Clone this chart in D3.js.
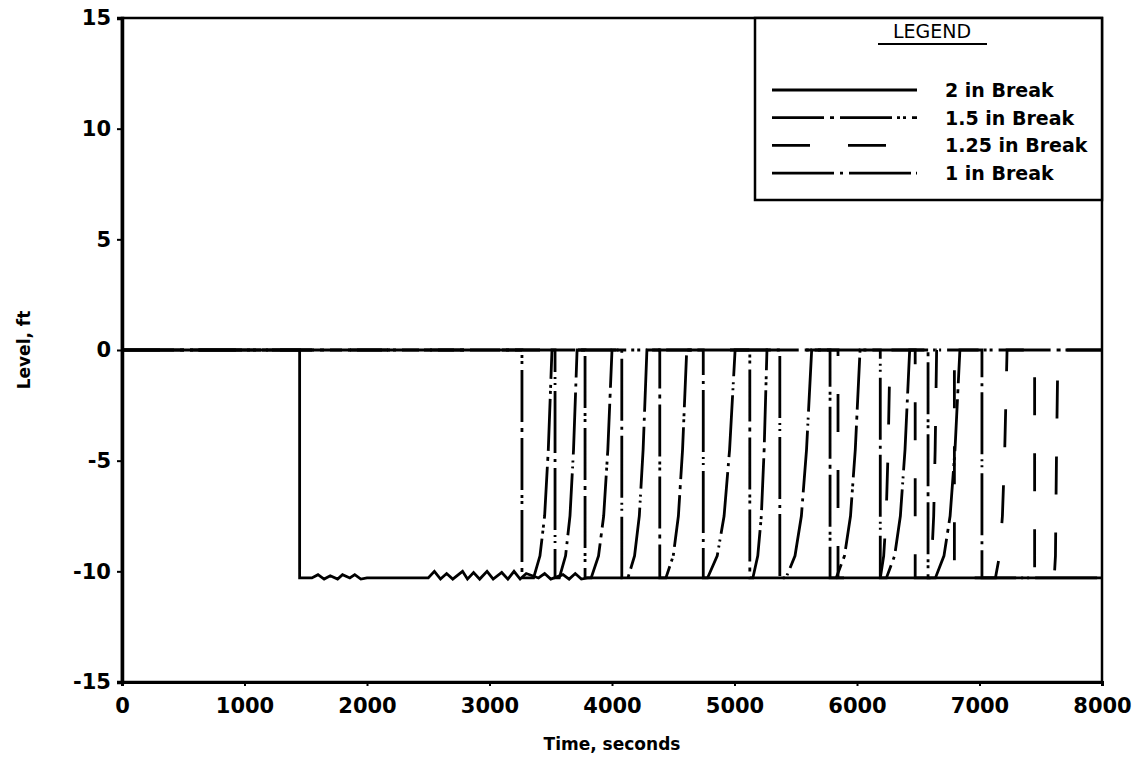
<!DOCTYPE html>
<html>
<head>
<meta charset="utf-8">
<script src="https://cdn.jsdelivr.net/npm/d3@7"></script>
<style>
  body { margin: 0; background: white; }
  svg { display: block; }
  text { font-family: "DejaVu Sans", sans-serif; font-weight: bold; fill: black; }
</style>
</head>
<body>
<script>
// tick values
var xTicks = [0, 1000, 2000, 3000, 4000, 5000, 6000, 7000, 8000]
var yTicks = [-15, -10, -5, 0, 5, 10, 15]

// legend names, same order as the series below
var seriesNames = ["2 in Break", "1.5 in Break", "1.25 in Break", "1 in Break"]

// level (ft) vs time (s)
var break2in = [
    [0, 0], [1450, 0], [1450, -10.3], [1550, -10.3], [1600, -10.15], [1650, -10.35], [1700, -10.2],
    [1760, -10.35], [1800, -10.15], [1860, -10.3], [1900, -10.15], [1950, -10.35], [2000, -10.3],
    [2500, -10.3], [2550, -10.0], [2600, -10.35], [2650, -10.1], [2700, -10.35], [2780, -10.0],
    [2820, -10.35], [2870, -10.05], [2920, -10.35], [2980, -10.0], [3030, -10.35], [3100, -10.05],
    [3150, -10.35], [3200, -10.0], [3250, -10.35], [3300, -10.1], [3400, -10.3], [3450, -10.1],
    [3500, -10.35], [3600, -10.15], [3650, -10.35], [3700, -10.1], [3750, -10.35], [3800, -10.3],
    [8000, -10.3]
]

var break15in = [
    [0, 0], [3265, 0], [3265, -10.3],
    [3360, -10.3], [3412, -9.3], [3450, -7.5], [3480, -4.5], [3510, 0],
    [3780, 0], [3780, -10.3],
    [3830, -10.3], [3890, -9.3], [3932, -7.5], [3966, -4.5], [4000, 0],
    [4390, 0], [4390, -10.3],
    [4440, -10.3], [4500, -9.3], [4542, -7.5], [4576, -4.5], [4610, 0],
    [5125, 0], [5125, -10.3],
    [5150, -10.3], [5190, -9.3], [5219, -7.5], [5242, -4.5], [5265, 0],
    [5780, 0], [5780, -10.3],
    [5830, -10.3], [5898, -9.3], [5947, -7.5], [5986, -4.5], [6025, 0],
    [6580, 0], [6580, -10.3],
    [6640, -10.3], [6710, -9.3], [6760, -7.5], [6800, -4.5], [6840, 0],
    [8000, 0]
]

var break125in = [
    [0, 0], [5845, 0], [5845, -10.3],
    [6190, -10.3], [6218, -9.3], [6238, -7.5], [6254, -4.5], [6270, 0],
    [6475, 0], [6475, -10.3],
    [6590, -10.3], [6611, -9.3], [6626, -7.5], [6638, -4.5], [6650, 0],
    [6795, 0], [6795, -10.3],
    [7130, -10.3], [7163, -9.3], [7187, -7.5], [7206, -4.5], [7225, 0],
    [7450, 0], [7450, -10.3],
    [7610, -10.3], [7620, -9.3], [7628, -5], [7640, 0],
    [8000, 0]
]

var break1in = [
    [0, 0], [3535, 0], [3535, -10.3],
    [3570, -10.3], [3621, -9.3], [3657, -7.5], [3686, -4.5], [3715, 0],
    [4080, 0], [4080, -10.3],
    [4130, -10.3], [4184, -9.3], [4223, -7.5], [4254, -4.5], [4285, 0],
    [4745, 0], [4745, -10.3],
    [4780, -10.3], [4859, -9.3], [4915, -7.5], [4960, -4.5], [5005, 0],
    [5370, 0], [5370, -10.3],
    [5420, -10.3], [5494, -9.3], [5546, -7.5], [5588, -4.5], [5630, 0],
    [6190, 0], [6190, -10.3],
    [6240, -10.3], [6307, -9.3], [6354, -7.5], [6392, -4.5], [6430, 0],
    [7020, 0], [7020, -10.3],
    [8000, -10.3]
]

var seriesData = [break2in, break15in, break125in, break1in]
var dashes = ["none", "52,6,4,6,52,5,3,3,3,6", "38,38", "62,6,3,6,62,5,2,4,2,6"]

var width = 1138
var height = 771
var plotLeft = 122, plotRight = 1102, plotTop = 18, plotBottom = 682

var svg = d3.select("body")
    .append("svg")
    .attr("width", width)
    .attr("height", height)

var x = d3.scaleLinear().domain([0, 8000]).range([plotLeft, plotRight])
var y = d3.scaleLinear().domain([-15, 15]).range([plotBottom, plotTop])

var line = d3.line()
    .x(function (d) { return x(d[0]) })
    .y(function (d) { return y(d[1]) })

// data lines
svg.selectAll(".series")
    .data(seriesData)
    .enter()
    .append("path")
    .attr("class", "series")
    .attr("d", line)
    .attr("fill", "none")
    .attr("stroke", "black")
    .attr("stroke-width", 2.8)
    .attr("stroke-dasharray", function (d, i) { return dashes[i] })

// frame
svg.append("rect")
    .attr("x", plotLeft)
    .attr("y", plotTop)
    .attr("width", plotRight - plotLeft)
    .attr("height", plotBottom - plotTop)
    .attr("fill", "none")
    .attr("stroke", "black")
    .attr("stroke-width", 2.5)

// axes, plain hyphen for negatives like the original
var yAxis = svg.append("g")
    .attr("transform", "translate(" + plotLeft + ",0)")
    .call(d3.axisLeft(y).tickValues(yTicks).tickFormat(function (d) { return String(d) }).tickSize(5).tickPadding(6))
var xAxis = svg.append("g")
    .attr("transform", "translate(0," + plotBottom + ")")
    .call(d3.axisBottom(x).tickValues(xTicks).tickFormat(function (d) { return String(d) }).tickSize(4).tickPadding(12))

yAxis.select(".domain").attr("stroke-width", 3.5)
xAxis.select(".domain").attr("stroke-width", 3)
svg.selectAll(".tick line").attr("stroke-width", 2)
svg.selectAll(".tick text")
    .style("font-family", "DejaVu Sans")
    .style("font-weight", "bold")
    .style("font-size", "21px")

svg.append("text")
    .attr("x", (plotLeft + plotRight) / 2)
    .attr("y", 750)
    .attr("text-anchor", "middle")
    .style("font-size", "17px")
    .text("Time, seconds")

svg.append("text")
    .attr("transform", "translate(30," + y(0) + ") rotate(-90)")
    .attr("text-anchor", "middle")
    .style("font-size", "17px")
    .text("Level, ft")

// legend
var legend = svg.append("g")

legend.append("rect")
    .attr("x", 755)
    .attr("y", plotTop)
    .attr("width", plotRight - 755)
    .attr("height", 200 - plotTop)
    .attr("fill", "white")
    .attr("stroke", "black")
    .attr("stroke-width", 2.5)

legend.append("text")
    .attr("x", 932)
    .attr("y", 38)
    .attr("text-anchor", "middle")
    .style("font-size", "19px")
    .style("font-weight", "normal")
    .text("LEGEND")

legend.append("line")
    .attr("x1", 878).attr("x2", 987)
    .attr("y1", 44).attr("y2", 44)
    .attr("stroke", "black")
    .attr("stroke-width", 2)

var rows = legend.selectAll(".row")
    .data(seriesNames)
    .enter()
    .append("g")
    .attr("class", "row")
    .attr("transform", function (d, i) { return "translate(0," + (97 + i * 27.7) + ")" })

rows.append("line")
    .attr("x1", 772).attr("x2", 917)
    .attr("y1", -7).attr("y2", -7)
    .attr("stroke", "black")
    .attr("stroke-width", 2.8)
    .attr("stroke-dasharray", function (d, i) { return dashes[i] })

rows.append("text")
    .attr("x", 945)
    .attr("y", 0)
    .style("font-size", "19px")
    .text(function (d) { return d })
</script>
</body>
</html>
